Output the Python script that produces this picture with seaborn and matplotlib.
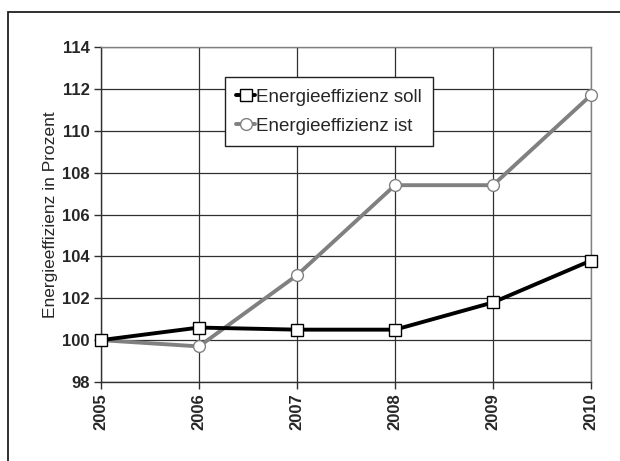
import pandas as pd
import matplotlib.pyplot as plt
import seaborn as sns
from matplotlib.patches import Rectangle

years = [2005, 2006, 2007, 2008, 2009, 2010]
soll = [100.0, 100.6, 100.5, 100.5, 101.8, 103.8]
ist = [100.0, 99.7, 103.1, 107.4, 107.4, 111.7]
y_ticks = [98, 100, 102, 104, 106, 108, 110, 112, 114]

df = pd.DataFrame({'Jahr': years, 'soll': soll, 'ist': ist})

sns.set_style('white')
plt.rcParams['font.family'] = ['Liberation Sans', 'DejaVu Sans']

fig = plt.figure(figsize=(6.2, 4.61), dpi=100)
ax = fig.add_axes([101 / 620, 1 - 382 / 461, 490 / 620, 335 / 461])

# outer frame
fig.patches.append(Rectangle((8 / 620, -0.05), 1.0, 1 - 12 / 461 + 0.05,
                             transform=fig.transFigure, fill=False,
                             edgecolor='#202020', linewidth=1.3))

sns.lineplot(data=df, x='Jahr', y='soll', ax=ax, color='black', linewidth=2.8,
             marker='s', markersize=8, markerfacecolor='white',
             markeredgecolor='black', markeredgewidth=1.0,
             label='Energieeffizienz soll', zorder=4, clip_on=False)
sns.lineplot(data=df, x='Jahr', y='ist', ax=ax, color='#808080', linewidth=2.8,
             marker='o', markersize=8.5, markerfacecolor='white',
             markeredgecolor='#808080', markeredgewidth=1.0,
             label='Energieeffizienz ist', zorder=3, clip_on=False)

ax.set_xlim(2005, 2010)
ax.set_ylim(98, 114)
ax.set_xticks(years)
ax.set_yticks(y_ticks)
ax.set_xticklabels([str(y) for y in years], rotation=90, fontweight='bold', fontsize=12)
ax.set_yticklabels([str(t) for t in y_ticks], fontweight='bold', fontsize=12)
ax.grid(True, color='#303030', linewidth=0.9)
ax.set_axisbelow(True)
ax.tick_params(axis='both', direction='out', length=5, width=1, color='#303030',
               left=True, bottom=True, pad=3)
for side in ['left', 'bottom']:
    ax.spines[side].set_color('#303030')
    ax.spines[side].set_linewidth(1)
for side in ['top', 'right']:
    ax.spines[side].set_color('#808080')
    ax.spines[side].set_linewidth(1)

ax.set_xlabel('')
ax.set_ylabel('Energieeffizienz in Prozent', fontsize=12.5, labelpad=3)

leg = ax.legend(loc='upper left', bbox_to_anchor=(0.253, 0.91), fontsize=13.5,
                frameon=True, fancybox=False, framealpha=1, edgecolor='#202020',
                handlelength=1.0, handletextpad=0.05, labelspacing=0.65,
                borderpad=0.6, borderaxespad=0)
leg.get_frame().set_linewidth(1)

fig.savefig('out.png', dpi=100)
